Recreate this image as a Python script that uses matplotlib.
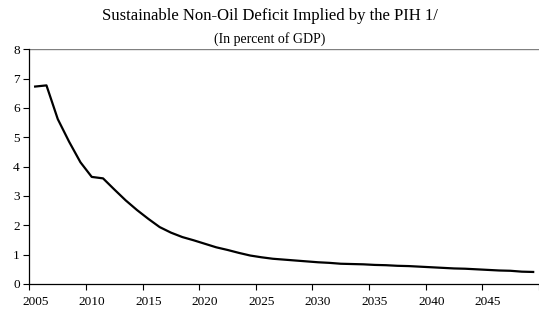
import numpy as np
import matplotlib.pyplot as plt

# Sustainable non-oil deficit, in percent of GDP
years = list(range(2005, 2050))
deficit = [6.73, 6.77, 5.62, 4.85, 4.15, 3.65, 3.60, 3.22, 2.85, 2.52,
           2.22, 1.94, 1.75, 1.60, 1.49, 1.37, 1.25, 1.16, 1.06, 0.97,
           0.91, 0.86, 0.83, 0.80, 0.77, 0.74, 0.72, 0.69, 0.68, 0.67,
           0.65, 0.64, 0.62, 0.61, 0.59, 0.57, 0.55, 0.53, 0.52, 0.50,
           0.48, 0.46, 0.45, 0.42, 0.41]
tick_labels = list(range(2005, 2050, 5))

plt.rcParams['font.family'] = ['Liberation Serif', 'DejaVu Serif']

fig = plt.figure(figsize=(5.39, 3.13), dpi=100)
ax = fig.add_axes([0.0547, 0.0927, 0.945, 0.7498])

ax.plot(years, deficit, color='black', linewidth=1.6)

ax.set_xlim(2004.5, 2049.5)
ax.set_ylim(0, 8)

# category style axis: tick marks between categories, labels at centres
ax.set_xticks([y - 0.5 for y in tick_labels] + [2049.5])
ax.set_xticklabels([])
ax.set_xticks(tick_labels, minor=True)
ax.set_xticklabels([str(y) for y in tick_labels], minor=True)
ax.tick_params(axis='x', which='minor', length=0, pad=9, labelsize=9.5)
ax.tick_params(axis='x', which='major', length=4, direction='out', width=0.8)
ax.set_yticks(range(0, 9))
ax.tick_params(axis='y', length=4, direction='out', width=0.8, labelsize=9.5, pad=3)

ax.axhline(8, color='#808080', linewidth=1)
ax.spines['top'].set_visible(False)
ax.spines['right'].set_visible(False)
ax.spines['left'].set_linewidth(0.9)
ax.spines['bottom'].set_linewidth(0.9)

fig.text(0.5, 0.948, 'Sustainable Non-Oil Deficit Implied by the PIH 1/',
         ha='center', va='center', fontsize=12)
fig.text(0.5, 0.875, '(In percent of GDP)', ha='center', va='center', fontsize=10)

fig.savefig('out.png', dpi=100)
